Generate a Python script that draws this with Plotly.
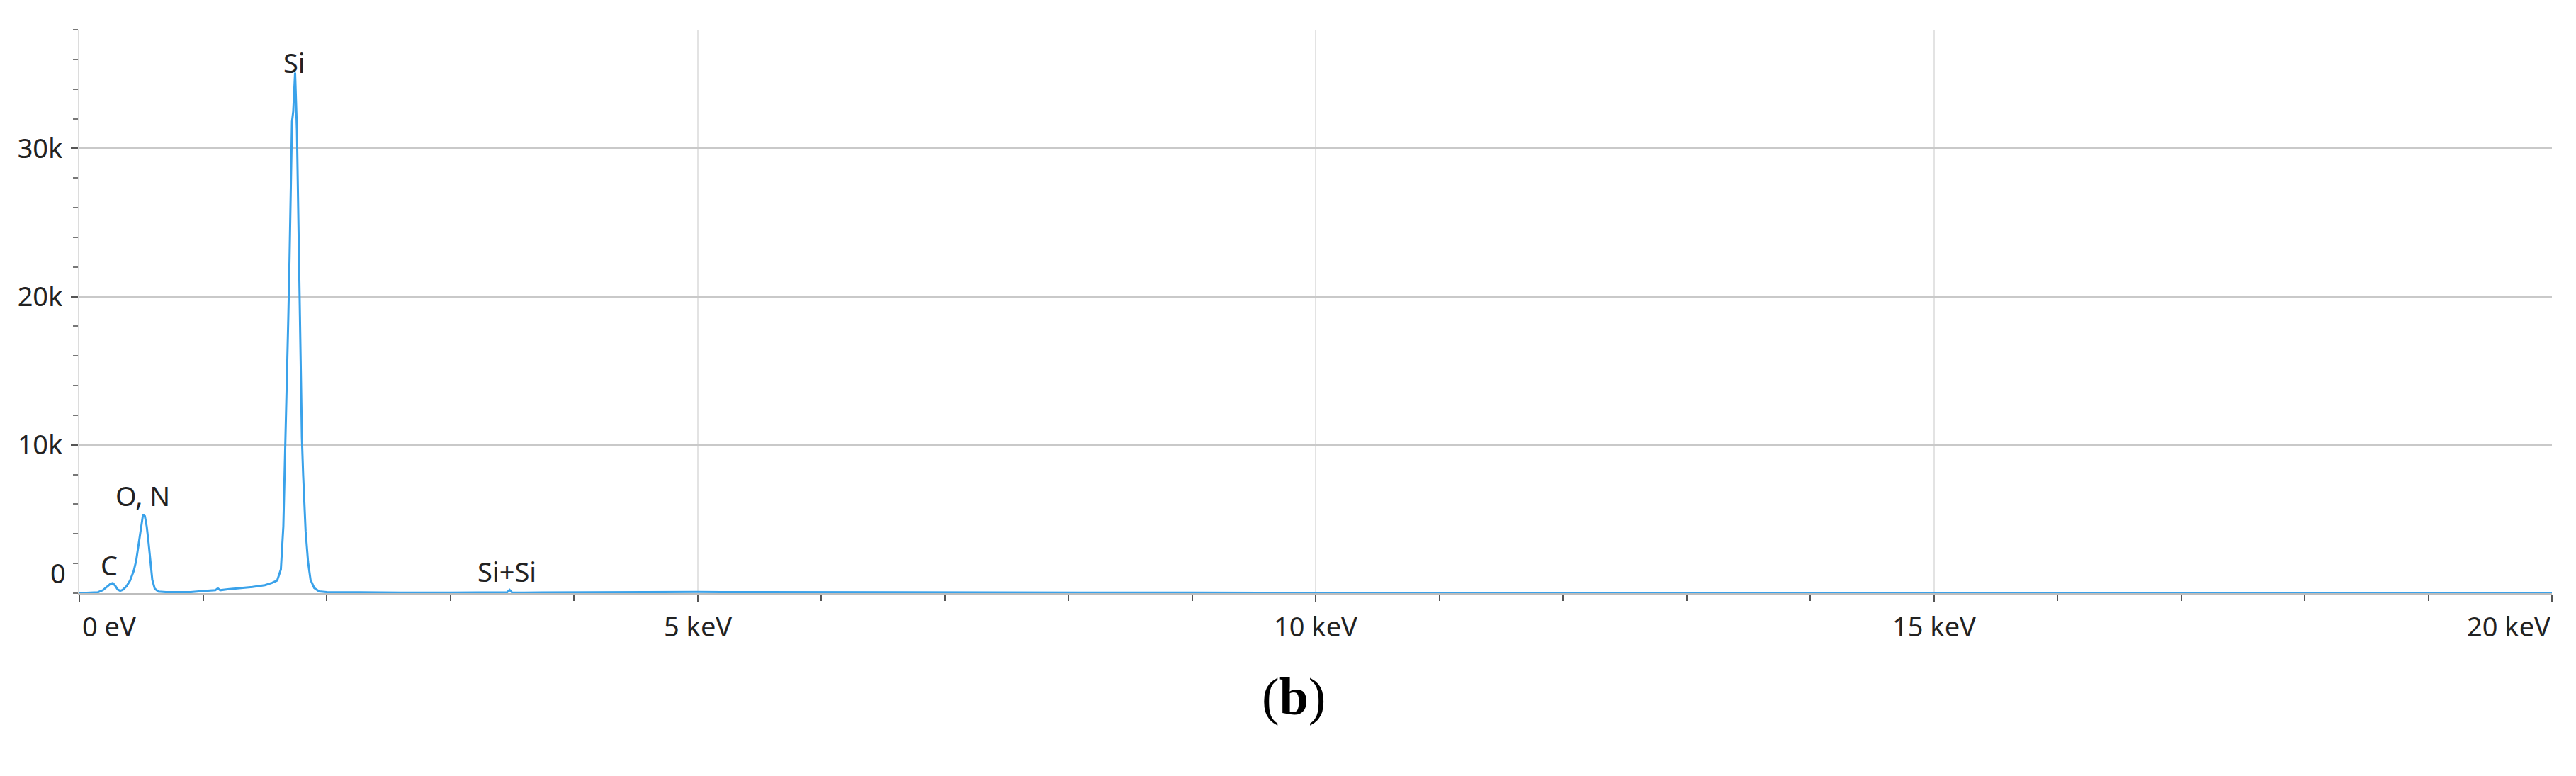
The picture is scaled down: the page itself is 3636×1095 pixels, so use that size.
import plotly.graph_objects as go

# ---- data ----
energy_keV = [0.00, 0.05, 0.10, 0.15, 0.19, 0.22, 0.25, 0.27, 0.29, 0.31, 0.33, 0.35,
              0.38, 0.41, 0.44, 0.46, 0.48, 0.50, 0.515, 0.53, 0.545, 0.56, 0.575, 0.59,
              0.61, 0.64, 0.70, 0.80, 0.90, 1.00, 1.10, 1.12, 1.14, 1.20, 1.30, 1.40,
              1.50, 1.56, 1.60, 1.63, 1.65, 1.67, 1.69, 1.70, 1.71, 1.72, 1.73, 1.745,
              1.76, 1.77, 1.78, 1.79, 1.80, 1.81, 1.83, 1.85, 1.87, 1.90, 1.94, 2.00,
              2.20, 2.60, 3.00, 3.40, 3.46, 3.48, 3.50, 3.60, 4.00, 4.50, 5.00, 5.50,
              6.00, 6.50, 7.00, 8.00, 9.00, 10.0, 12.0, 14.0, 16.0, 18.0, 20.0]
counts = [0, 10, 20, 60, 200, 420, 620, 680, 500, 250, 160, 220,
          450, 850, 1500, 2200, 3300, 4600, 5300, 5200, 4500, 3400, 2000, 900,
          300, 110, 70, 60, 70, 140, 200, 330, 200, 260, 330, 420,
          540, 700, 850, 1600, 4500, 11000, 18500, 22500, 26500, 31800, 32500, 35100,
          31200, 26000, 19500, 14000, 10500, 8000, 4200, 2100, 900, 350, 120, 70,
          50, 40, 35, 35, 60, 220, 50, 40, 60, 90, 80, 70,
          60, 50, 45, 35, 30, 25, 20, 15, 12, 10, 8]

peak_labels = ["C", "O, N", "Si", "Si+Si"]
peak_label_x = [0.24, 0.51, 1.74, 3.46]
peak_label_y = [1900, 6600, 35800, 1500]

x_tick_vals = [0, 5, 10, 15, 20]
x_tick_text = ["0 eV", "5 keV", "10 keV", "15 keV", "20 keV"]
y_tick_vals = [10000, 20000, 30000]
y_tick_text = ["10k", "20k", "30k"]

X_RANGE = [0, 20]
Y_RANGE = [0, 38000]

FONT = "Noto Sans"
TXT = "#222222"

fig = go.Figure()
fig.add_trace(go.Scatter(x=energy_keV, y=counts, mode="lines",
                         line=dict(color="#3aa2ea", width=3),
                         showlegend=False, hoverinfo="skip"))

W, H = 3636, 1095
L, R, T, B = 104, 42, 34, 266
plot_h = H - T - B
plot_w = W - L - R

def ypaper(py):
    return (H - B - py) / plot_h

annots = []
for t, xv, yv in zip(peak_labels, peak_label_x, peak_label_y):
    annots.append(dict(x=xv, y=yv, xref="x", yref="y", text=t, showarrow=False,
                       font=dict(family=FONT, size=38, color=TXT),
                       xanchor="center", yanchor="middle"))

# x tick labels (0 eV left-aligned, 20 keV right-aligned)
for v, t in zip(x_tick_vals, x_tick_text):
    anchor = "center"
    shift = 0
    if v == X_RANGE[0]:
        anchor, shift = "left", 2
    elif v == X_RANGE[1]:
        anchor, shift = "right", 0
    annots.append(dict(x=v, y=ypaper(875), xref="x", yref="paper", text=t,
                       showarrow=False, xanchor=anchor, yanchor="middle", xshift=shift,
                       font=dict(family=FONT, size=38, color=TXT)))

# y "0" label sits slightly above the baseline in the reference
annots.append(dict(x=0, y=ypaper(800), xref="paper", yref="paper", text="0",
                   showarrow=False, xanchor="right", yanchor="middle", xshift=-17,
                   font=dict(family=FONT, size=38, color=TXT)))

# caption
annots.append(dict(x=(1818 - L) / plot_w, y=ypaper(975), xref="paper", yref="paper",
                   text="(<b>b</b>)", showarrow=False, xanchor="center", yanchor="middle",
                   font=dict(family="Liberation Serif", size=74, color="#000000")))

fig.update_layout(
    width=W, height=H,
    margin=dict(l=L, r=R, t=T, b=B, pad=0),
    paper_bgcolor="white", plot_bgcolor="white",
    font=dict(family=FONT, size=38, color=TXT),
    annotations=annots,
    xaxis=dict(range=X_RANGE, tickvals=x_tick_vals, ticktext=[""] * len(x_tick_vals),
               showgrid=True, gridcolor="#e3e3e3", gridwidth=2,
               showline=True, linecolor="#bdbdbd", linewidth=3,
               ticks="outside", ticklen=10, tickwidth=2, tickcolor="#555555",
               minor=dict(dtick=1, tick0=0, ticks="outside", ticklen=8, tickwidth=2,
                          tickcolor="#555555", showgrid=False),
               zeroline=False, fixedrange=True),
    yaxis=dict(range=Y_RANGE, tickvals=y_tick_vals, ticktext=y_tick_text,
               showgrid=True, gridcolor="#c9c9c9", gridwidth=2,
               showline=True, linecolor="#dcdcdc", linewidth=2,
               ticks="outside", ticklen=10, tickwidth=2, tickcolor="#555555",
               ticklabelstandoff=4,
               minor=dict(dtick=2000, tick0=0, ticks="outside", ticklen=7, tickwidth=2,
                          tickcolor="#777777", showgrid=False),
               tickfont=dict(family=FONT, size=38, color=TXT),
               zeroline=False, fixedrange=True),
)

fig.write_html("out.html")
